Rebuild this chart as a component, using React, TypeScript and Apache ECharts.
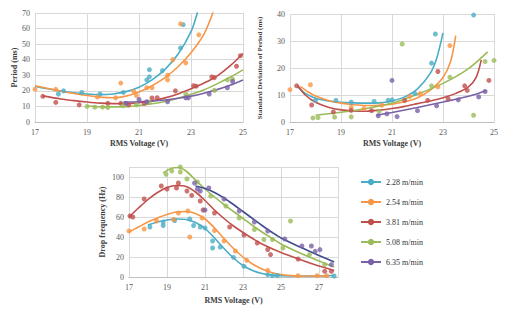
import React, { useEffect, useRef } from "react";
import * as echarts from "echarts";

const speeds = ["2.28 m/min", "2.54 m/min", "3.81 m/min", "5.08 m/min", "6.35 m/min"];
const colors = ["#4bacc6", "#f79646", "#c0504d", "#9bbb59", "#7a62a8"];
const bottomLineColors = ["#4bacc6", "#f79646", "#c0504d", "#9bbb59", "#3f4d8f"];

// Period (ms) measured points
const periodPts228 = [[17.9, 18], [18.1, 20], [18.8, 19], [19.5, 18], [20.4, 19], [21.3, 27], [21.4, 33.6], [21.4, 29], [21.9, 33], [22.6, 47.5], [22.7, 62.5]];
const periodPts254 = [[17, 21], [17.8, 21], [19.4, 16], [20.1, 15.5], [20.3, 25], [20.8, 19.7], [20.9, 17], [21.3, 22], [21.5, 22], [22.1, 27], [22.1, 30], [22.3, 40], [22.6, 63], [22.8, 38], [23.3, 56]];
const periodPts381 = [[17.3, 16.5], [17.8, 12.6], [18.7, 11], [19.8, 12], [20.3, 12], [20.6, 11], [21.2, 12], [21.5, 15.4], [21.7, 15.6], [22.4, 20], [23.1, 23.3], [23.2, 23], [23.8, 29], [23.9, 28.5], [24.75, 35.8], [24.9, 42.6]];
const periodPts508 = [[19.0, 10], [19.3, 9.5], [19.6, 9.5], [19.8, 9.3], [20.4, 10.5], [20.9, 11], [21.4, 12.6], [22.8, 18], [23.9, 20.3], [24.4, 27], [24.6, 27.5]];
const periodPts635 = [[20.5, 12], [21.0, 14.5], [21.3, 13], [22.1, 13], [22.8, 15.5], [22.9, 15.5], [23.7, 18], [24.4, 22], [24.6, 26]];

// Period trend lines
const periodFit228 = [[17, 23], [17.5, 21.3], [18, 19.9], [18.5, 18.8], [19, 18], [19.5, 17.6], [20, 18], [20.5, 19.5], [21, 22.3], [21.5, 27], [22, 33.8], [22.5, 43.5], [23, 58], [23.25, 70.5]];
const periodFit254 = [[17, 23.3], [17.5, 21.5], [18, 19.8], [18.5, 18.3], [19, 17], [19.5, 16], [20, 15.6], [20.5, 16.6], [21, 19.3], [21.5, 23.3], [22, 28.5], [22.5, 35.5], [23, 44.5], [23.5, 56.5], [23.85, 70.5]];
const periodFit381 = [[17.3, 16.8], [18, 14.8], [18.5, 13.7], [19, 12.8], [19.5, 12.1], [20, 11.8], [20.5, 11.8], [21, 12.4], [21.5, 13.6], [22, 15.5], [22.5, 18], [23, 21.3], [23.5, 25], [24, 29.5], [24.5, 36], [25, 44]];
const periodFit508 = [[19, 10.3], [19.5, 9.8], [20, 9.7], [20.5, 9.9], [21, 10.6], [21.5, 11.7], [22, 13.2], [22.5, 15.3], [23, 17.8], [23.5, 20.7], [24, 24.5], [24.5, 28.7], [25, 33.5]];
const periodFit635 = [[20.4, 12.8], [21, 13], [21.5, 13.4], [22, 14.1], [22.5, 15.2], [23, 16.6], [23.5, 18.5], [24, 20.8], [24.5, 23.6], [25, 27]];

// Standard deviation of period (ms) points
const sdPts228 = [[18, 8], [18.8, 8], [19.4, 7.3], [20.3, 7.6], [20.85, 8], [21, 8.2], [21.9, 10.5], [22.55, 21.8], [22.7, 32.6], [24.2, 39.6]];
const sdPts254 = [[17, 12], [17.8, 13.8], [19.4, 5.4], [19.9, 5], [20.6, 6.2], [21.7, 9.5], [22.1, 10.5], [22.8, 13], [23.27, 28.3]];
const sdPts381 = [[17.26, 13.4], [17.85, 6.3], [18.7, 3.7], [19.4, 4.3], [20.2, 4.2], [21.5, 8], [22.4, 8], [22.8, 18.7], [23.2, 8.6], [23.85, 13.4], [23.95, 11.7], [24.8, 15.4]];
const sdPts508 = [[17.9, 1.5], [18.1, 1.6], [18.75, 1.8], [19.4, 1.9], [20.5, 4], [21.4, 28.9], [22.55, 13.4], [23.27, 16.6], [24.2, 2.5], [24.65, 22.4], [25, 22.8]];
const sdPts635 = [[20.46, 2.3], [20.8, 3], [21, 15.4], [21.2, 2], [22, 4.2], [22.75, 6], [23.6, 8.2], [24.4, 9.3], [24.65, 11.3]];

// Standard deviation trend lines
const sdFit228 = [[17.3, 13], [17.6, 10.6], [18, 8.8], [18.5, 7.8], [19, 7.3], [19.5, 7.1], [20, 7], [20.5, 7.1], [21, 7.8], [21.5, 9.3], [22, 12.3], [22.5, 18], [22.75, 23.5], [23, 33]];
const sdFit254 = [[17.4, 13.2], [17.7, 11.2], [18, 9.6], [18.5, 8], [19, 7], [19.5, 6.4], [20, 6.1], [20.5, 6.2], [21, 6.6], [21.5, 7.5], [22, 9], [22.5, 11.8], [23, 16.5], [23.3, 22.5], [23.5, 32]];
const sdFit381 = [[17.3, 13.5], [17.6, 10], [18, 7.3], [18.5, 5.5], [19, 4.5], [19.5, 4.1], [20, 4], [20.5, 4.4], [21, 5], [21.5, 5.8], [22, 6.8], [22.5, 7.8], [23, 9], [23.5, 10.6], [24, 13], [24.3, 16.5], [24.5, 23]];
const sdFit508 = [[18, 2.5], [19, 3.6], [20, 5], [21, 7], [22, 10.3], [23, 14.3], [24, 19.8], [24.75, 26]];
const sdFit635 = [[20.4, 2.5], [21, 3.5], [22, 5.4], [23, 7.4], [24, 9.5], [24.7, 11.6]];

// Drop frequency (Hz) points
const dfPts228 = [[18.1, 50], [18.8, 51.5], [18.8, 55], [19.4, 56.5], [20.2, 58], [20.4, 51.5], [20.75, 50], [21, 49], [21.4, 36], [21.4, 29], [21.8, 30], [22.5, 19.7], [23.05, 10.7], [24.3, 2.3], [24.55, 1.3], [24.8, 1.5], [27.8, 1]];
const dfPts254 = [[17, 46], [17.8, 48], [18.45, 56], [19.35, 57.5], [19.6, 64], [20.1, 66], [20.2, 40], [20.85, 59], [21.5, 46.5], [22, 36], [22.6, 26], [23.2, 16.7], [24.3, 6.7], [25.9, 1.3], [26.9, 1.3], [27.4, 1.3]];
const dfPts381 = [[17.05, 61], [17.2, 60], [17.8, 78], [18.7, 91], [19.0, 88], [19.5, 89], [19.6, 94], [20.05, 86], [20.3, 81.6], [20.75, 76], [20.9, 67], [21.5, 64], [22.3, 50], [23.05, 42], [23.75, 34], [24.3, 27.5], [24.45, 22.4], [25.9, 18], [27.3, 5.7], [27.65, 5.7]];
const dfPts508 = [[18.95, 102.7], [19.25, 106], [19.7, 105], [19.7, 110], [20.05, 98], [20.6, 95], [21.3, 81], [22.1, 71], [22.8, 59], [23.6, 47.5], [24.1, 37.5], [24.55, 37.5], [25.1, 29], [25.5, 56], [26.5, 22.4], [27.3, 12.4]];
const dfPts635 = [[20.45, 94], [20.6, 88], [20.75, 86], [21, 67], [21.2, 89], [22, 78], [22.8, 66], [23.6, 55], [24.3, 46], [25.2, 38], [26.1, 31], [26.6, 31], [26.8, 25.7], [27.05, 27.4], [27.65, 12.4]];

// Drop frequency trend lines
const dfFit228 = [[18, 52], [18.5, 55], [19, 57], [19.5, 58], [20, 57.5], [20.5, 54.5], [21, 48.5], [21.5, 39], [22, 28.5], [22.5, 19], [23, 11.5], [23.5, 6.5], [24, 3.5], [24.5, 2], [25, 1.2], [26, 1], [27, 1.2], [27.8, 1.5]];
const dfFit254 = [[17, 45], [17.5, 50], [18, 55], [18.5, 59], [19, 62.5], [19.5, 65], [20, 65.5], [20.5, 63.5], [21, 58], [21.5, 49], [22, 38.5], [22.5, 28.5], [23, 20], [23.5, 13], [24, 8], [24.5, 4.5], [25, 2.5], [26, 1], [27, 1], [27.5, 1]];
const dfFit381 = [[17, 60], [17.5, 69], [18, 77.5], [18.5, 84.5], [19, 89.5], [19.5, 91.5], [20, 90.5], [20.5, 85], [21, 76.5], [21.5, 67], [22, 58.5], [22.5, 51], [23, 44.5], [23.5, 38.5], [24, 33], [25, 24.5], [26, 17.5], [27, 11], [27.8, 6.5]];
const dfFit508 = [[18.8, 104], [19.2, 108.5], [19.6, 109.5], [20, 106], [20.5, 97], [21, 88], [21.5, 80], [22, 72.5], [22.5, 65.5], [23, 58.5], [23.5, 51.5], [24, 45], [24.5, 39], [25, 33], [26, 24], [27, 16], [27.8, 10]];
const dfFit635 = [[20.5, 91], [21, 88.5], [21.5, 84.5], [22, 79], [22.5, 72.5], [23, 65.5], [23.5, 58.5], [24, 51.5], [24.5, 45], [25, 39], [26, 30], [27, 21.5], [27.8, 15]];

const xName = "RMS Voltage (V)";
const yNames = ["Period (ms)", "Standard Deviation of Period (ms)", "Drop frequency (Hz)"];

const FONT = "'Liberation Serif', 'Times New Roman', serif";

export default function App() {
  const ref = useRef<HTMLDivElement>(null);
  useEffect(() => {
    document.body.style.margin = "0";
    const chart = echarts.init(ref.current!, undefined, { renderer: "svg" });
    const pts = [
      [periodPts228, periodPts254, periodPts381, periodPts508, periodPts635],
      [sdPts228, sdPts254, sdPts381, sdPts508, sdPts635],
      [dfPts228, dfPts254, dfPts381, dfPts508, dfPts635],
    ];
    const fits = [
      [periodFit228, periodFit254, periodFit381, periodFit508, periodFit635],
      [sdFit228, sdFit254, sdFit381, sdFit508, sdFit635],
      [dfFit228, dfFit254, dfFit381, dfFit508, dfFit635],
    ];
    const series: any[] = [];
    for (let g = 0; g < 3; g++) {
      for (let s = 0; s < 5; s++) {
        const lc = g === 2 ? bottomLineColors[s] : colors[s];
        series.push({
          type: "line",
          name: speeds[s],
          xAxisIndex: g,
          yAxisIndex: g,
          data: fits[g][s],
          smooth: 0.3,
          showSymbol: false,
          symbol: "circle",
          symbolSize: 5,
          clip: true,
          itemStyle: { color: lc },
          lineStyle: { color: lc, width: 1.6 },
          z: 3,
        });
      }
      for (let s = 0; s < 5; s++) {
        series.push({
          type: "scatter",
          name: speeds[s] + " data",
          xAxisIndex: g,
          yAxisIndex: g,
          data: pts[g][s],
          symbolSize: 5,
          itemStyle: { color: colors[s] },
          z: 4,
        });
      }
    }
    const labelStyle = { fontFamily: FONT, fontSize: 8, color: "#595959" };
    const nameStyle = { fontFamily: FONT, fontSize: 8, fontWeight: "bold" as const, color: "#404040" };
    const split = { show: true, lineStyle: { color: "#d9d9d9", width: 1 } };
    const xAxis = (g: number, min: number, max: number, gap: number) => ({
      type: "value",
      gridIndex: g,
      min,
      max,
      interval: 2,
      name: xName,
      nameLocation: "middle",
      nameGap: gap,
      nameTextStyle: nameStyle,
      axisLine: { show: true, lineStyle: { color: "#bfbfbf" } },
      axisTick: { show: false },
      splitLine: split,
      axisLabel: { ...labelStyle, margin: 6, showMaxLabel: g !== 2 },
    });
    const yAxis = (g: number, max: number, interval: number, gap: number, fs: number) => ({
      type: "value",
      gridIndex: g,
      min: 0,
      max,
      interval,
      name: yNames[g],
      nameLocation: "middle",
      nameGap: gap,
      nameTextStyle: { ...nameStyle, fontSize: fs },
      axisLine: { show: false },
      axisTick: { show: false },
      splitLine: split,
      axisLabel: { ...labelStyle, margin: 5, showMaxLabel: g !== 2 },
    });
    chart.setOption({
      animation: false,
      backgroundColor: "#ffffff",
      textStyle: { fontFamily: FONT },
      grid: [
        { left: 35, top: 13, width: 208, height: 109 },
        { left: 290, top: 14, width: 204, height: 108 },
        { left: 129, top: 167, width: 209, height: 110 },
      ],
      xAxis: [xAxis(0, 17, 25, 17), xAxis(1, 17, 25, 17), xAxis(2, 17, 28, 19)],
      yAxis: [yAxis(0, 70, 10, 17, 8), yAxis(1, 40, 10, 27, 7), yAxis(2, 110, 20, 23, 8)],
      legend: {
        orient: "vertical",
        left: 355,
        top: 172,
        itemWidth: 20,
        itemHeight: 8,
        itemGap: 10,
        data: speeds,
        textStyle: { fontFamily: FONT, fontSize: 8, color: "#333", lineHeight: 10 },
      },
      series,
    });
    return () => chart.dispose();
  }, []);
  return <div ref={ref} style={{ width: 509, height: 311 }} />;
}
